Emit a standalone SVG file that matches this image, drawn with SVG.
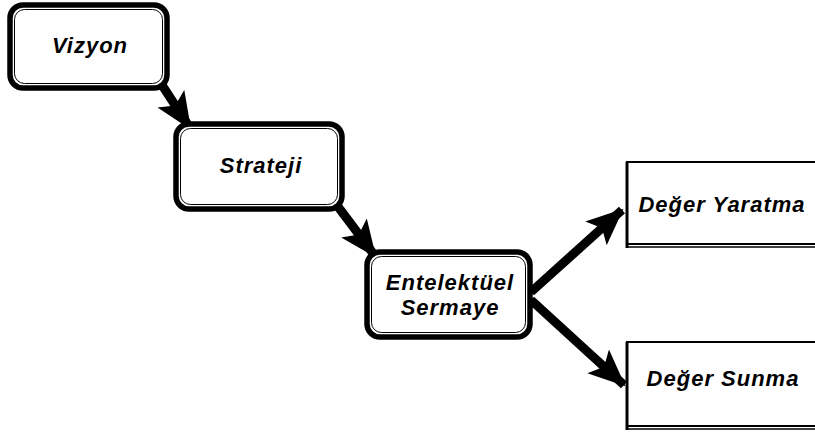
<svg xmlns="http://www.w3.org/2000/svg" width="815" height="438" viewBox="0 0 815 438">
<style>
.outer{fill:#fff;stroke:#000;stroke-width:5.5}
.inner{fill:none;stroke:#000;stroke-width:1}
.sq{fill:#fff;stroke:#000;stroke-width:2}
.lbl{font-family:"Liberation Sans",Arial,sans-serif;font-weight:bold;font-style:italic;font-size:22px;letter-spacing:1px;fill:#000;text-anchor:middle}
.conn{stroke:#000;stroke-width:9;fill:none}
</style>
<defs>
<marker id="ah" markerUnits="userSpaceOnUse" markerWidth="38" markerHeight="34" refX="35" refY="17" orient="auto">
<path d="M0,1 L37,17 L0,33 L8,17 Z" fill="#000"/>
</marker>
</defs>
<g id="connectors">
<line class="conn" x1="160" y1="82" x2="190" y2="128" marker-end="url(#ah)"/>
<line class="conn" x1="336" y1="204" x2="375" y2="256" marker-end="url(#ah)"/>
<line class="conn" x1="531" y1="292" x2="622" y2="210" marker-end="url(#ah)"/>
<line class="conn" x1="531" y1="300" x2="624" y2="385" marker-end="url(#ah)"/>
</g>
<g id="vizyon">
<rect class="outer" x="10" y="5" width="157" height="83" rx="13"/>
<rect class="inner" x="14.5" y="9.5" width="148" height="74" rx="10"/>
<text class="lbl" x="90" y="53">Vizyon</text>
</g>
<g id="strateji">
<rect class="outer" x="176" y="124" width="166" height="85" rx="13"/>
<rect class="inner" x="180.5" y="128.5" width="157" height="76" rx="10"/>
<text class="lbl" x="261" y="173">Strateji</text>
</g>
<g id="entelektuel">
<rect class="outer" x="367" y="252" width="163" height="85" rx="13"/>
<rect class="inner" x="371.5" y="256.5" width="154" height="76" rx="10"/>
<text class="lbl" x="450" y="290">Entelektüel</text>
<text class="lbl" x="450" y="315">Sermaye</text>
</g>
<g id="deger-yaratma">
<rect class="sq" x="627" y="162" width="200" height="82"/>
<line x1="626" y1="247" x2="815" y2="247" stroke="#000" stroke-width="1.5"/>
<line x1="627" y1="162" x2="627" y2="248" stroke="#000" stroke-width="3"/>
<text class="lbl" x="722" y="212">Değer Yaratma</text>
</g>
<g id="deger-sunma">
<rect class="sq" x="627" y="342" width="200" height="84"/>
<line x1="626" y1="429" x2="815" y2="429" stroke="#000" stroke-width="1.5"/>
<line x1="627" y1="342" x2="627" y2="430" stroke="#000" stroke-width="3"/>
<text class="lbl" x="723" y="386">Değer Sunma</text>
</g>
</svg>
